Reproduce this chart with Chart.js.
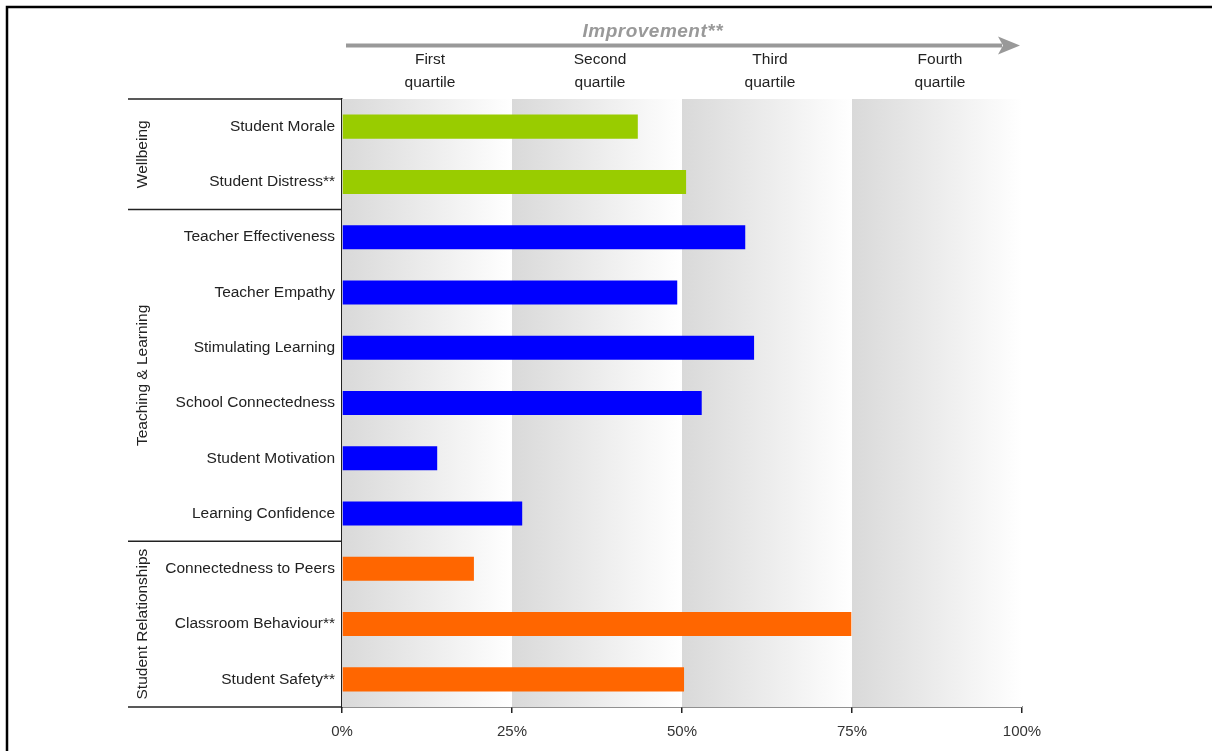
<!DOCTYPE html>
<html>
<head>
<meta charset="utf-8">
<script src="https://cdn.jsdelivr.net/npm/chart.js@4.4.0/dist/chart.umd.min.js"></script>
<style>
  body { margin: 0; background: #fff; }
  canvas { display: block; }
</style>
</head>
<body>
<canvas id="graficoBarras" width="1212" height="751"></canvas>
<script>
// dados do grafico
const categorias = [
  "Student Morale",
  "Student Distress**",
  "Teacher Effectiveness",
  "Teacher Empathy",
  "Stimulating Learning",
  "School Connectedness",
  "Student Motivation",
  "Learning Confidence",
  "Connectedness to Peers",
  "Classroom Behaviour**",
  "Student Safety**",
];
const valores = [43.5, 50.6, 59.3, 49.3, 60.6, 52.9, 14.0, 26.5, 19.4, 74.9, 50.3];

const grupos = ["Wellbeing", "Teaching & Learning", "Student Relationships"];
const tamanhoGrupos = [2, 6, 3];
const coresGrupos = ["#99cc00", "#0000ff", "#ff6600"];

const marcasX = [0, 25, 50, 75, 100];
const quartis = [
  ["First", "quartile"],
  ["Second", "quartile"],
  ["Third", "quartile"],
  ["Fourth", "quartile"],
];
const tituloSeta = "Improvement**";

const fonte = "'Liberation Sans', Arial, sans-serif";

// cor de cada barra pelo grupo
let coresBarras = [];
for (let g = 0; g < grupos.length; g++) {
  for (let k = 0; k < tamanhoGrupos[g]; k++) {
    coresBarras.push(coresGrupos[g]);
  }
}

// faixas de fundo dos quartis
const pluginFaixas = {
  id: "faixas",
  beforeDatasetsDraw(chart) {
    const ctx = chart.ctx;
    const area = chart.chartArea;
    const x = chart.scales.x;
    ctx.save();
    for (let i = 0; i < marcasX.length - 1; i++) {
      const x0 = x.getPixelForValue(marcasX[i]);
      const x1 = x.getPixelForValue(marcasX[i + 1]);
      const grad = ctx.createLinearGradient(x0, 0, x1, 0);
      grad.addColorStop(0, "#d9d9d9");
      grad.addColorStop(1, "#ffffff");
      ctx.fillStyle = grad;
      ctx.fillRect(x0, area.top, x1 - x0, area.bottom - area.top);
    }
    ctx.restore();
  },
};

// grupos, cabecalho e moldura
const pluginExtras = {
  id: "extras",
  afterDraw(chart) {
    const ctx = chart.ctx;
    const area = chart.chartArea;
    const x = chart.scales.x;
    const y = chart.scales.y;
    const xInicio = 128;

    ctx.save();

    // linhas separando os grupos
    let limites = [area.top];
    let idx = 0;
    for (let g = 0; g < tamanhoGrupos.length - 1; g++) {
      idx += tamanhoGrupos[g];
      limites.push((y.getPixelForValue(idx - 1) + y.getPixelForValue(idx)) / 2);
    }
    limites.push(area.bottom);

    ctx.strokeStyle = "#222";
    ctx.lineWidth = 1.5;
    for (let i = 0; i < limites.length; i++) {
      ctx.beginPath();
      ctx.moveTo(xInicio, limites[i]);
      ctx.lineTo(area.left, limites[i]);
      ctx.stroke();
    }

    // nomes dos grupos (verticais)
    ctx.fillStyle = "#222";
    ctx.font = "15.5px " + fonte;
    ctx.textAlign = "center";
    ctx.textBaseline = "middle";
    for (let g = 0; g < grupos.length; g++) {
      const meio = (limites[g] + limites[g + 1]) / 2;
      ctx.save();
      ctx.translate(143, meio);
      ctx.rotate(-Math.PI / 2);
      ctx.fillText(grupos[g], 0, 0);
      ctx.restore();
    }

    // seta de melhoria
    const xs0 = x.getPixelForValue(0) + 4;
    const xs1 = x.getPixelForValue(100) - 2;
    const ySeta = 45.5;
    ctx.strokeStyle = "#999";
    ctx.fillStyle = "#999";
    ctx.lineWidth = 4;
    ctx.beginPath();
    ctx.moveTo(xs0, ySeta);
    ctx.lineTo(xs1 - 18, ySeta);
    ctx.stroke();
    ctx.beginPath();
    ctx.moveTo(xs1, ySeta);
    ctx.lineTo(xs1 - 22, ySeta - 9);
    ctx.lineTo(xs1 - 17, ySeta);
    ctx.lineTo(xs1 - 22, ySeta + 9);
    ctx.closePath();
    ctx.fill();

    ctx.font = "italic bold 19px " + fonte;
    ctx.letterSpacing = "0.5px";
    ctx.fillStyle = "#999";
    ctx.textBaseline = "alphabetic";
    ctx.fillText(tituloSeta, x.getPixelForValue(45.7), 37);
    ctx.letterSpacing = "0px";

    // rotulos dos quartis
    ctx.font = "15.5px " + fonte;
    ctx.fillStyle = "#222";
    ctx.textBaseline = "middle";
    for (let i = 0; i < quartis.length; i++) {
      const cx = (x.getPixelForValue(marcasX[i]) + x.getPixelForValue(marcasX[i + 1])) / 2;
      ctx.fillText(quartis[i][0], cx + 3, 60);
      ctx.fillText(quartis[i][1], cx + 3, 83);
    }

    // moldura (topo e esquerda)
    ctx.strokeStyle = "#000";
    ctx.lineWidth = 2.5;
    ctx.beginPath();
    ctx.moveTo(7, chart.height);
    ctx.lineTo(7, 7);
    ctx.lineTo(chart.width, 7);
    ctx.stroke();

    ctx.restore();
  },
};

const grafico = new Chart(document.getElementById("graficoBarras"), {
  type: "bar",
  data: {
    labels: categorias,
    datasets: [
      {
        data: valores,
        backgroundColor: coresBarras,
        barPercentage: 0.435,
        categoryPercentage: 1,
      },
    ],
  },
  options: {
    indexAxis: "y",
    responsive: false,
    animation: false,
    layout: { padding: { top: 99, right: 190, bottom: 0, left: 0 } },
    plugins: {
      legend: { display: false },
      tooltip: { enabled: false },
    },
    scales: {
      x: {
        min: 0,
        max: 100,
        afterFit(s) {
          s.height = 44;
        },
        ticks: {
          stepSize: 25,
          callback: (v) => v + "%",
          font: { family: fonte, size: 15 },
          color: "#333",
          padding: 10,
        },
        grid: {
          drawOnChartArea: false,
          drawTicks: true,
          tickLength: 6,
          color: "#222",
          lineWidth: 1.5,
        },
        border: { color: "#222", width: 1.5 },
      },
      y: {
        afterFit(s) {
          s.width = 342;
        },
        ticks: {
          font: { family: fonte, size: 15.5 },
          color: "#222",
          padding: 7,
        },
        grid: { display: false, drawTicks: false },
        border: { display: true, color: "#222", width: 1.5 },
      },
    },
  },
  plugins: [pluginFaixas, pluginExtras],
});
</script>
</body>
</html>
